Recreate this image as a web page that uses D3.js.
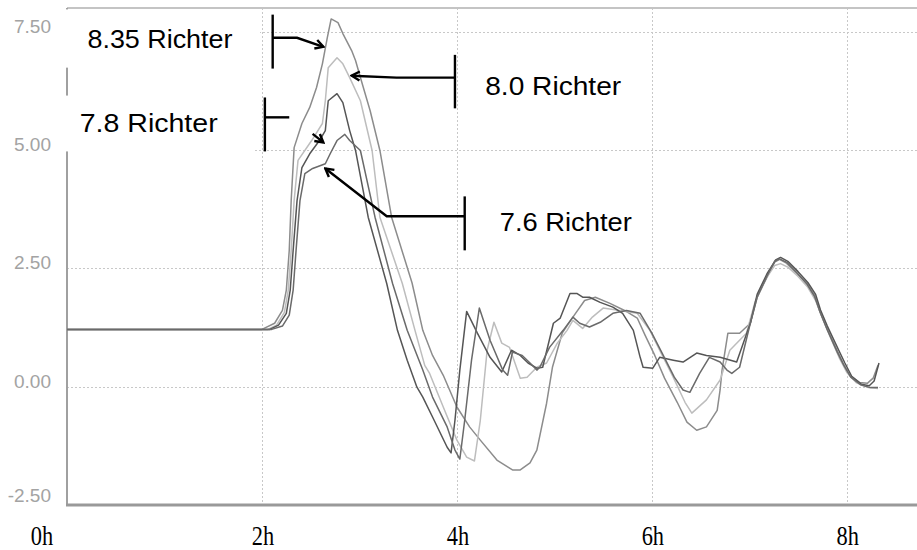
<!DOCTYPE html>
<html>
<head>
<meta charset="utf-8">
<script src="https://cdn.jsdelivr.net/npm/d3@7"></script>
<style>
  html, body { margin: 0; padding: 0; background: #fff; }
  svg { display: block; }
</style>
</head>
<body>
<svg id="chart"></svg>
<script>
// tick values
const hourTicks = [0, 2, 4, 6, 8];
const hourLabels = ["0h", "2h", "4h", "6h", "8h"];
const levelTicks = [7.5, 5, 2.5, 0, -2.5];

// wave height traces, [hours, metres]
const wave835 = [[0,1.21],[2.0,1.21],[2.13,1.34],[2.21,1.61],[2.25,2.04],[2.28,2.88],[2.30,3.94],[2.33,5.05],[2.41,5.56],[2.49,5.90],[2.56,6.32],[2.62,6.82],[2.67,7.37],[2.71,7.77],[2.78,7.69],[2.83,7.46],[2.92,7.10],[2.96,6.89],[3.01,6.53],[3.11,5.83],[3.21,4.99],[3.33,3.58],[3.54,2.19],[3.65,1.19],[3.75,0.66],[3.86,0.24],[4.00,-0.43],[4.13,-0.85],[4.24,-1.13],[4.41,-1.55],[4.57,-1.76],[4.65,-1.76],[4.75,-1.61],[4.82,-1.34],[4.92,-0.35],[4.98,0.41],[5.08,1.13],[5.19,1.47],[5.31,1.82],[5.42,1.89],[5.57,1.76],[5.72,1.61],[5.85,1.45],[5.93,1.09],[6.03,0.66],[6.13,0.18],[6.26,-0.33],[6.36,-0.75],[6.46,-0.92],[6.56,-0.85],[6.67,-0.50],[6.70,-0.07],[6.72,0.35],[6.78,1.13],[6.90,1.13],[7.01,1.34],[7.08,1.89],[7.18,2.31],[7.26,2.63],[7.31,2.69],[7.38,2.61],[7.49,2.39],[7.59,2.18],[7.67,1.93],[7.72,1.61],[7.79,1.26],[7.90,0.77],[7.96,0.50],[8.03,0.24],[8.13,0.09],[8.21,0.07],[8.27,0.18],[8.32,0.45]];
const wave80 = [[0,1.21],[2.06,1.21],[2.15,1.30],[2.23,1.57],[2.27,2.04],[2.30,2.88],[2.33,3.93],[2.37,4.78],[2.51,5.20],[2.62,5.56],[2.65,6.04],[2.68,6.74],[2.77,6.95],[2.83,6.82],[2.90,6.53],[3.01,6.04],[3.13,4.99],[3.21,3.58],[3.44,2.18],[3.57,1.19],[3.67,0.45],[3.72,0.28],[3.86,-0.43],[4.00,-1.13],[4.10,-1.49],[4.18,-1.57],[4.24,-0.71],[4.31,0.77],[4.38,1.36],[4.46,0.92],[4.54,0.83],[4.65,0.18],[4.72,0.20],[4.82,0.41],[4.92,0.50],[5.03,0.92],[5.13,1.19],[5.19,1.40],[5.29,1.23],[5.39,1.47],[5.50,1.66],[5.67,1.61],[5.85,1.55],[5.98,1.19],[6.08,0.77],[6.21,0.24],[6.34,-0.33],[6.41,-0.56],[6.56,-0.28],[6.70,0.14],[6.80,0.77],[6.97,1.13],[7.06,1.80],[7.16,2.25],[7.26,2.56],[7.32,2.60],[7.40,2.52],[7.50,2.33],[7.60,2.10],[7.68,1.82],[7.75,1.45],[7.83,1.05],[7.92,0.62],[8.00,0.30],[8.10,0.08],[8.22,-0.02],[8.32,-0.04]];
const wave78 = [[0,1.21],[2.08,1.21],[2.17,1.30],[2.25,1.55],[2.29,2.04],[2.32,2.88],[2.36,3.93],[2.41,4.63],[2.49,4.92],[2.59,5.20],[2.65,5.41],[2.68,6.04],[2.77,6.19],[2.83,6.00],[2.90,5.41],[2.96,4.99],[3.09,3.58],[3.28,2.18],[3.39,1.19],[3.49,0.56],[3.59,-0.01],[3.65,-0.22],[3.75,-0.64],[3.90,-1.28],[3.94,-1.40],[3.98,-0.71],[4.03,0.35],[4.10,1.59],[4.21,1.13],[4.34,0.62],[4.46,0.31],[4.56,0.77],[4.65,0.66],[4.73,0.50],[4.82,0.39],[4.88,0.41],[4.99,1.34],[5.06,1.45],[5.16,1.97],[5.23,1.97],[5.29,1.89],[5.36,1.89],[5.47,1.78],[5.60,1.68],[5.70,1.55],[5.81,1.19],[5.88,0.62],[5.91,0.41],[6.01,0.39],[6.08,0.62],[6.22,0.56],[6.32,0.52],[6.46,0.71],[6.56,0.66],[6.70,0.62],[6.87,0.52],[7.01,1.34],[7.08,1.95],[7.18,2.38],[7.27,2.68],[7.32,2.73],[7.40,2.64],[7.50,2.43],[7.60,2.20],[7.68,1.95],[7.73,1.62],[7.80,1.28],[7.91,0.80],[7.98,0.50],[8.05,0.22],[8.15,0.05],[8.23,0.02],[8.28,0.12],[8.33,0.50]];
const wave76 = [[0,1.21],[2.10,1.21],[2.21,1.28],[2.28,1.51],[2.32,2.04],[2.35,2.88],[2.39,3.93],[2.44,4.50],[2.52,4.61],[2.65,4.71],[2.70,4.92],[2.77,5.20],[2.85,5.33],[2.90,5.20],[3.01,4.99],[3.16,3.58],[3.34,2.18],[3.49,1.19],[3.65,0.35],[3.75,-0.22],[3.90,-0.85],[3.98,-1.34],[4.03,-1.53],[4.08,-0.71],[4.15,0.56],[4.23,1.66],[4.34,0.98],[4.47,0.35],[4.52,0.24],[4.57,0.73],[4.67,0.66],[4.75,0.50],[4.82,0.35],[4.85,0.41],[4.95,0.83],[5.09,1.19],[5.19,1.47],[5.26,1.34],[5.36,1.26],[5.47,1.36],[5.60,1.55],[5.74,1.61],[5.88,1.55],[6.00,1.13],[6.10,0.73],[6.23,0.20],[6.32,-0.07],[6.39,-0.12],[6.49,0.28],[6.59,0.62],[6.70,0.52],[6.77,0.35],[6.82,0.28],[6.90,0.41],[7.01,1.34],[7.08,1.89],[7.18,2.33],[7.26,2.65],[7.31,2.70],[7.39,2.62],[7.49,2.40],[7.59,2.17],[7.67,1.90],[7.73,1.55],[7.80,1.20],[7.90,0.74],[7.97,0.45],[8.04,0.20],[8.14,0.04],[8.24,-0.02],[8.32,-0.02]];

const series = [
  { name: "8.35", values: wave835, color: "#8c8c8c" },
  { name: "8.0", values: wave80, color: "#bdbdbd" },
  { name: "7.8", values: wave78, color: "#555" },
  { name: "7.6", values: wave76, color: "#6a6a6a" },
];

// callouts, all in chart units (hours, metres)
const callouts = [
  { text: "8.35 Richter", tx: 0.21, ty: 7.16, width: 145, bar: [2.11, 7.86, 6.72],
    path: [[2.11, 7.37], [2.36, 7.37], [2.63, 7.18]], box: [-0.03, 1.98, 7.97, 6.74] },
  { text: "8.0 Richter", tx: 4.29, ty: 6.17, width: 136, bar: [3.98, 7.01, 5.88],
    path: [[3.98, 6.53], [3.38, 6.53], [2.92, 6.57]] },
  { text: "7.8 Richter", tx: 0.13, ty: 5.37, width: 138, bar: [2.03, 6.11, 4.97],
    path: [[2.03, 5.69], [2.28, 5.69]], arrow: [[2.52, 5.34], [2.63, 5.16]],
    box: [-0.03, 1.91, 6.15, 4.97] },
  { text: "7.6 Richter", tx: 4.44, ty: 3.28, width: 132, bar: [4.08, 4.02, 2.88],
    path: [[4.08, 3.60], [3.28, 3.60], [2.65, 4.61]] },
];

const w = 917;
const h = 550;
const margin = { top: 8, right: 0, bottom: 45, left: 67 };

const svg = d3.select("#chart").attr("width", w).attr("height", h);

const x = d3.scaleLinear().domain([0, 8.72]).range([margin.left, w - margin.right]);
const y = d3.scaleLinear().domain([-2.5, 8]).range([h - margin.bottom, margin.top]);

svg.append("defs")
  .append("marker")
  .attr("id", "arrow")
  .attr("markerUnits", "userSpaceOnUse")
  .attr("viewBox", "0 0 12 12")
  .attr("markerWidth", 12)
  .attr("markerHeight", 12)
  .attr("refX", 10)
  .attr("refY", 6)
  .attr("orient", "auto")
  .append("path")
  .attr("d", "M2,1.5 L10,6 L2,10.5")
  .attr("fill", "none")
  .attr("stroke", "#000")
  .attr("stroke-width", 2.4);

// grid
const grid = svg.append("g").attr("stroke", "#c8c8c8").attr("stroke-dasharray", "2,2");
grid.selectAll(".hgrid")
  .data(levelTicks.filter((d) => d > -2.5))
  .join("line")
  .attr("x1", x(0))
  .attr("x2", w)
  .attr("y1", (d) => Math.round(y(d)) + 0.5)
  .attr("y2", (d) => Math.round(y(d)) + 0.5);
grid.selectAll(".vgrid")
  .data(hourTicks.filter((d) => d > 0))
  .join("line")
  .attr("x1", (d) => Math.round(x(d)) + 0.5)
  .attr("x2", (d) => Math.round(x(d)) + 0.5)
  .attr("y1", margin.top)
  .attr("y2", y(-2.5));

// frame
svg.append("line")
  .attr("x1", x(0)).attr("x2", w)
  .attr("y1", margin.top).attr("y2", margin.top)
  .attr("stroke", "#c4c4c4").attr("stroke-width", 2);
svg.append("line")
  .attr("x1", x(0)).attr("x2", x(0))
  .attr("y1", margin.top).attr("y2", y(-2.5))
  .attr("stroke", "#a0a0a0").attr("stroke-width", 2);
svg.append("line")
  .attr("x1", x(0) - 1).attr("x2", w)
  .attr("y1", y(-2.5)).attr("y2", y(-2.5))
  .attr("stroke", "#999").attr("stroke-width", 3);

// white label boxes
svg.append("g")
  .selectAll("rect")
  .data(callouts.filter((c) => c.box))
  .join("rect")
  .attr("x", (c) => x(c.box[0]))
  .attr("y", (c) => y(c.box[2]))
  .attr("width", (c) => x(c.box[1]) - x(c.box[0]))
  .attr("height", (c) => y(c.box[3]) - y(c.box[2]))
  .attr("fill", "#fff");

// y tick labels (plain hyphen for negatives, like the original)
svg.append("g")
  .selectAll("text")
  .data(levelTicks)
  .join("text")
  .attr("x", 51)
  .attr("y", (d) => Math.min(y(d) + 1, y(-2.5) - 3))
  .attr("text-anchor", "end")
  .attr("font-family", "Liberation Sans, Arial, sans-serif")
  .attr("font-size", 19)
  .attr("fill", "#a3a3a3")
  .text((d) => d.toFixed(2));

// x tick labels
svg.append("g")
  .selectAll("text")
  .data(hourTicks)
  .join("text")
  .attr("transform", (d, i) => `translate(${i === 0 ? x(d) - 25 : x(d) + 1},${h - 5}) scale(0.8,1)`)
  .attr("text-anchor", "middle")
  .attr("font-family", "Liberation Serif, Times New Roman, serif")
  .attr("font-size", 28)
  .attr("fill", "#000")
  .text((d, i) => hourLabels[i]);

// wave traces
const line = d3.line()
  .x((d) => x(d[0]))
  .y((d) => y(d[1]));

svg.append("g")
  .attr("fill", "none")
  .selectAll("path")
  .data(series)
  .join("path")
  .attr("d", (s) => line(s.values))
  .attr("stroke", (s) => s.color)
  .attr("stroke-width", 1.5)
  .attr("stroke-linejoin", "round");

// callouts
const cg = svg.append("g").attr("fill", "none").attr("stroke", "#000").attr("stroke-width", 2.4);
cg.selectAll(".bar")
  .data(callouts)
  .join("line")
  .attr("x1", (c) => x(c.bar[0]))
  .attr("x2", (c) => x(c.bar[0]))
  .attr("y1", (c) => y(c.bar[1]))
  .attr("y2", (c) => y(c.bar[2]));
cg.selectAll(".lead")
  .data(callouts)
  .join("path")
  .attr("d", (c) => line(c.path))
  .attr("marker-end", (c) => (c.arrow ? null : "url(#arrow)"));
cg.selectAll(".tip")
  .data(callouts.filter((c) => c.arrow))
  .join("path")
  .attr("d", (c) => line(c.arrow))
  .attr("marker-end", "url(#arrow)");

svg.append("g")
  .selectAll("text")
  .data(callouts)
  .join("text")
  .attr("x", (c) => x(c.tx))
  .attr("y", (c) => y(c.ty))
  .attr("font-family", "Liberation Sans, Arial, sans-serif")
  .attr("font-size", 25)
  .attr("fill", "#000")
  .attr("textLength", (c) => c.width)
  .attr("lengthAdjust", "spacingAndGlyphs")
  .text((c) => c.text);
</script>
</body>
</html>
